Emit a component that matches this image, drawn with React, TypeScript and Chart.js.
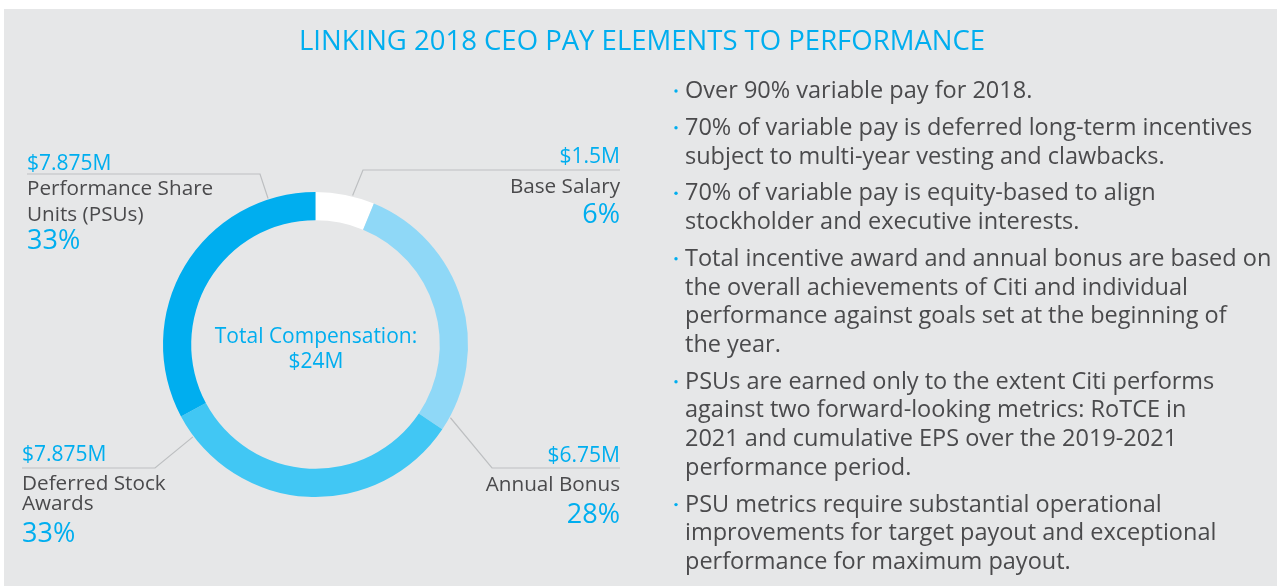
import React, { useEffect, useRef } from "react";
import { Chart, registerables } from "chart.js";

Chart.register(...registerables);

// Pay elements (in $M), clockwise from 12 o'clock
const categories = ["Base Salary", "Annual Bonus", "Deferred Stock Awards", "Performance Share Units (PSUs)"];
const payValues = [1.5, 6.75, 7.875, 7.875];
const valueLabels = ["$1.5M", "$6.75M", "$7.875M", "$7.875M"];
const percentLabels = ["6%", "28%", "33%", "33%"];
const sliceColors = ["#ffffff", "#8fd8f7", "#41c7f4", "#00aeef"];
const totalLabel = "$24M";

const bullets: string[][] = [
  ["Over 90% variable pay for 2018."],
  ["70% of variable pay is deferred long-term incentives", "subject to multi-year vesting and clawbacks."],
  ["70% of variable pay is equity-based to align", "stockholder and executive interests."],
  [
    "Total incentive award and annual bonus are based on",
    "the overall achievements of Citi and individual",
    "performance against goals set at the beginning of",
    "the year.",
  ],
  [
    "PSUs are earned only to the extent Citi performs",
    "against two forward-looking metrics: RoTCE in",
    "2021 and cumulative EPS over the 2019-2021",
    "performance period.",
  ],
  [
    "PSU metrics require substantial operational",
    "improvements for target payout and exceptional",
    "performance for maximum payout.",
  ],
];

const BLUE = "#00aeef";
const GRAY = "#4a4a4c";
const LINE = "#bdbfc1";
const FONT = "'Open Sans', Roboto, sans-serif";

// Leader line geometry per slice: angle on the ring (deg, clockwise from top), elbow, and end of the rule
const leaders = [
  { angle: 14, elbow: [363, 170], endX: 620 },
  { angle: 118.5, elbow: [492, 468], endX: 620 },
  { angle: 233, elbow: [155, 468], endX: 22 },
  { angle: 342, elbow: [260, 174], endX: 27 },
];

const leaderPlugin = {
  id: "leaderLines",
  afterDatasetsDraw(chart: any) {
    const meta = chart.getDatasetMeta(0);
    const arc = meta.data[0];
    if (!arc) return;
    const { x, y, outerRadius } = arc.getProps(["x", "y", "outerRadius"], true);
    const ctx = chart.ctx;
    ctx.save();
    ctx.strokeStyle = LINE;
    ctx.lineWidth = 1.2;
    leaders.forEach((l) => {
      const a = (l.angle * Math.PI) / 180;
      const r = outerRadius + 1;
      const sx = x + r * Math.sin(a);
      const sy = y - r * Math.cos(a);
      ctx.beginPath();
      ctx.moveTo(sx, sy);
      ctx.lineTo(l.elbow[0], l.elbow[1]);
      ctx.lineTo(l.endX, l.elbow[1]);
      ctx.stroke();
    });
    ctx.restore();
  },
};

export default function App() {
  const canvasRef = useRef<HTMLCanvasElement | null>(null);

  useEffect(() => {
    if (!canvasRef.current) return;
    const chart = new Chart(canvasRef.current, {
      type: "doughnut",
      data: {
        labels: categories,
        datasets: [
          {
            data: payValues,
            backgroundColor: sliceColors,
            borderWidth: 0,
          },
        ],
      },
      options: {
        responsive: false,
        animation: false,
        cutout: "81.5%",
        rotation: 0,
        layout: { padding: { left: 163, top: 192, right: 809, bottom: 89 } },
        plugins: {
          legend: { display: false },
          tooltip: { enabled: false },
        },
        events: [],
      },
      plugins: [leaderPlugin],
    });
    return () => chart.destroy();
  }, []);

  // baselines of the bullet lines
  const bulletLines: { text: string; y: number; first: boolean }[] = [];
  let y = 98;
  bullets.forEach((b, bi) => {
    b.forEach((t, li) => {
      if (bi > 0 || li > 0) y += li === 0 ? 36.8 : 28.7;
      bulletLines.push({ text: t, y, first: li === 0 });
    });
  });

  const label = (x: number, yb: number, text: string, size: number, color: string, anchor: string, weight = 400) => (
    <text x={x} y={yb} fontSize={size} fill={color} textAnchor={anchor} fontFamily={FONT} fontWeight={weight}>
      {text}
    </text>
  );

  return (
    <div style={{ position: "absolute", left: 0, top: 0, width: 1277, height: 586, background: "#ffffff", overflow: "hidden" }}>
      <div style={{ position: "absolute", left: 4, top: 9, right: 0, bottom: 0, background: "#e6e7e8" }} />
      <canvas ref={canvasRef} width={1277} height={586} style={{ position: "absolute", left: 0, top: 0 }} />
      <svg width={1277} height={586} style={{ position: "absolute", left: 0, top: 0 }}>
        {label(642, 50, "LINKING 2018 CEO PAY ELEMENTS TO PERFORMANCE", 27.5, BLUE, "middle", 500)}

        {/* Base Salary */}
        {label(620, 163, valueLabels[0], 21, BLUE, "end")}
        {label(620, 193, categories[0], 20.7, GRAY, "end")}
        {label(620, 223, percentLabels[0], 27, BLUE, "end")}

        {/* Annual Bonus */}
        {label(620, 462, valueLabels[1], 21, BLUE, "end")}
        {label(620, 491, categories[1], 20.7, GRAY, "end")}
        {label(620, 523, percentLabels[1], 27, BLUE, "end")}

        {/* Deferred Stock Awards */}
        {label(22, 461, valueLabels[2], 21, BLUE, "start")}
        {label(22, 490, "Deferred Stock", 20.7, GRAY, "start")}
        {label(22, 510, "Awards", 20.7, GRAY, "start")}
        {label(22, 542, percentLabels[2], 27, BLUE, "start")}

        {/* Performance Share Units */}
        {label(27, 170, valueLabels[3], 21, BLUE, "start")}
        {label(27, 195, "Performance Share", 20.7, GRAY, "start")}
        {label(27, 221, "Units (PSUs)", 20.7, GRAY, "start")}
        {label(27, 249, percentLabels[3], 27, BLUE, "start")}

        {/* Centre total */}
        {label(316, 343, "Total Compensation:", 21, BLUE, "middle", 500)}
        {label(316, 368, totalLabel, 21, BLUE, "middle", 500)}

        {bulletLines.map((l, i) => (
          <g key={i}>
            {l.first && <circle cx={676} cy={l.y - 7} r={1.7} fill={BLUE} />}
            {label(685, l.y, l.text, 23.5, GRAY, "start")}
          </g>
        ))}
      </svg>
    </div>
  );
}
